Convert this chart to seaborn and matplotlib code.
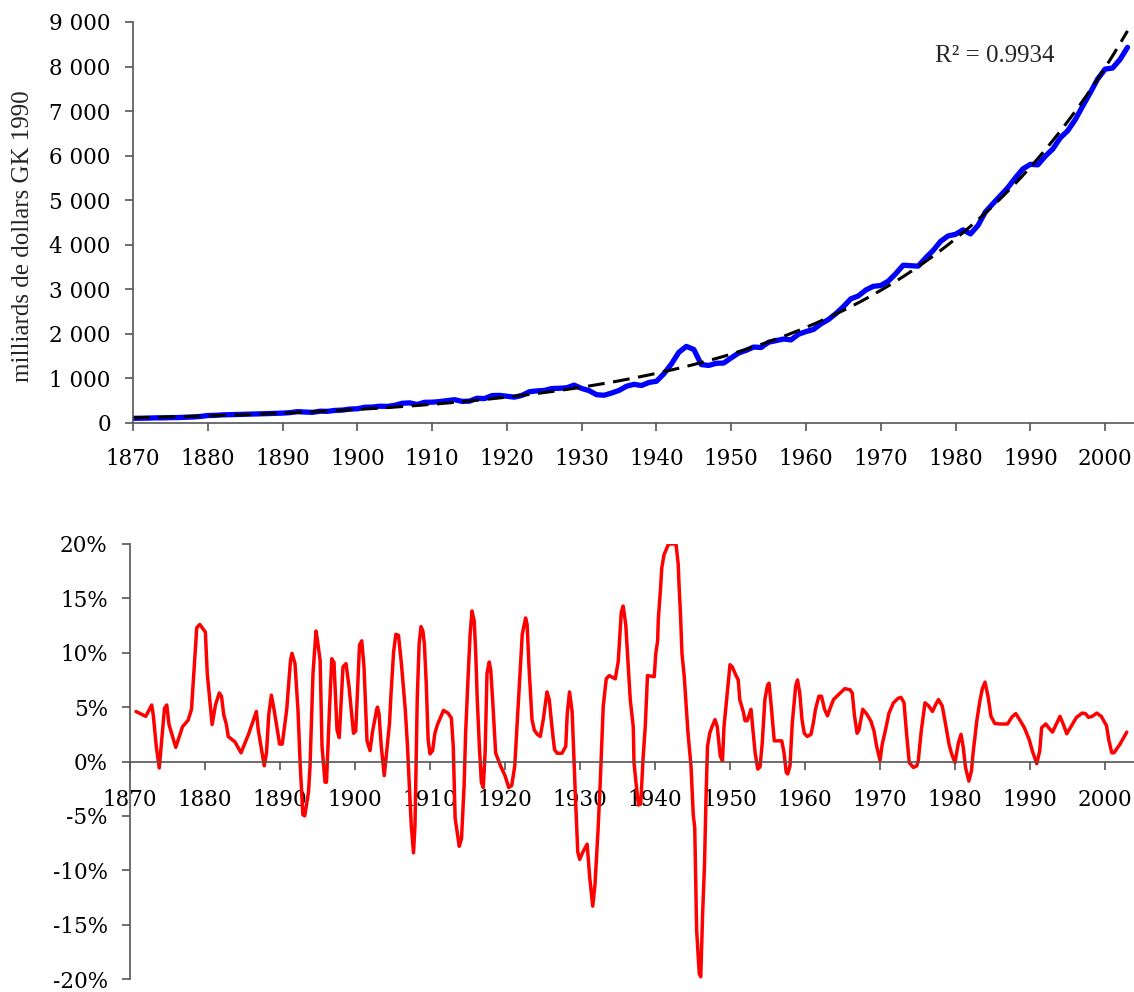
import matplotlib
matplotlib.use("Agg")
import matplotlib.pyplot as plt
import matplotlib.ticker as mticker
import pandas as pd
import seaborn as sns
import numpy as np

# PIB annuel, milliards de dollars GK 1990
years = list(range(1870, 2004))
gdp = [98, 100, 103, 109, 108, 114, 116, 122, 128, 140,
       161, 165, 176, 180, 185, 187, 194, 199, 205, 211,
       215, 226, 249, 239, 232, 258, 255, 276, 283, 306,
       313, 347, 351, 370, 366, 390, 436, 445, 410, 458,
       461, 474, 496, 517, 479, 484, 549, 541, 609, 614,
       594, 574, 612, 695, 714, 724, 767, 773, 784, 844,
       769, 720, 629, 616, 666, 725, 819, 862, 835, 904,
       930, 1099, 1318, 1581, 1714, 1645, 1305, 1286, 1334, 1340,
       1456, 1567, 1625, 1699, 1689, 1808, 1844, 1879, 1860, 1987,
       2047, 2094, 2220, 2316, 2450, 2607, 2782, 2847, 2980, 3063,
       3082, 3179, 3346, 3537, 3527, 3516, 3702, 3867, 4073, 4195,
       4231, 4331, 4240, 4430, 4735, 4920, 5100, 5280, 5500, 5700,
       5803, 5791, 5985, 6146, 6396, 6558, 6804, 7110, 7406, 7718,
       7942, 7966, 8159, 8431]

# taux de croissance (%)
growth_year = [
    1870.8, 1872.1, 1872.9, 1873.1, 1873.5, 1873.9, 1874.6, 1874.9, 1875.2, 1876.1,
    1877.0, 1877.75, 1878.2, 1878.9, 1879.3, 1880.05, 1880.3, 1880.95, 1881.4, 1881.9,
    1882.2, 1882.5, 1882.85, 1883.1, 1884.0, 1884.8, 1885.8, 1886.85, 1887.1, 1887.9,
    1888.2, 1888.5, 1888.85, 1889.2, 1889.95, 1890.3, 1890.9, 1891.4, 1891.6, 1892.0,
    1892.4, 1892.7, 1893.05, 1893.3, 1893.8, 1894.0, 1894.4, 1894.8, 1895.0, 1895.35,
    1895.6, 1896.0, 1896.2, 1896.6, 1896.9, 1897.2, 1897.6, 1897.9, 1898.4, 1898.8,
    1899.2, 1899.8, 1900.1, 1900.6, 1900.9, 1901.2, 1901.6, 1902.0, 1902.35, 1902.9,
    1903.0, 1903.2, 1903.5, 1903.9, 1904.2, 1904.6, 1904.8, 1905.15, 1905.45, 1905.8,
    1906.2, 1906.7, 1907.0, 1907.2, 1907.5, 1907.8, 1908.0, 1908.3, 1908.55, 1908.8,
    1909.05, 1909.25, 1909.5, 1909.75, 1910.0, 1910.35, 1910.65, 1911.0, 1911.8, 1912.4,
    1912.85, 1913.1, 1913.35, 1913.9, 1914.2, 1914.55, 1914.75, 1915.1, 1915.35, 1915.6,
    1915.9, 1916.1, 1916.3, 1916.6, 1916.85, 1917.1, 1917.35, 1917.6, 1917.9, 1918.1,
    1918.4, 1918.75, 1919.4, 1920.0, 1920.5, 1920.9, 1921.3, 1921.55, 1921.9, 1922.1,
    1922.3, 1922.75, 1922.95, 1923.2, 1923.6, 1923.9, 1924.3, 1924.7, 1925.1, 1925.6,
    1925.9, 1926.3, 1926.6, 1926.95, 1927.6, 1928.1, 1928.3, 1928.6, 1928.95, 1929.2,
    1929.4, 1929.7, 1929.95, 1930.4, 1930.95, 1931.3, 1931.7, 1932.0, 1932.4, 1932.7,
    1933.1, 1933.5, 1933.9, 1934.7, 1935.1, 1935.5, 1935.75, 1936.1, 1936.7, 1937.1,
    1937.2, 1937.5, 1937.8, 1938.1, 1938.4, 1938.7, 1938.9, 1939.0, 1939.9, 1940.1,
    1940.35, 1940.45, 1940.75, 1940.9, 1941.2, 1941.8, 1942.8, 1943.1, 1943.2, 1943.4,
    1943.6, 1943.9, 1944.4, 1944.8, 1945.1, 1945.3, 1945.55, 1945.9, 1946.1, 1946.35,
    1946.6, 1946.8, 1947.0, 1947.3, 1947.6, 1948.0, 1948.3, 1948.7, 1949.0, 1949.2,
    1949.55, 1949.8, 1950.0, 1950.3, 1950.8, 1951.1, 1951.3, 1951.8, 1952.0, 1952.3,
    1952.8, 1953.1, 1953.35, 1953.7, 1954.0, 1954.3, 1954.65, 1955.0, 1955.2, 1955.5,
    1955.9, 1956.3, 1956.9, 1957.2, 1957.5, 1957.7, 1958.0, 1958.3, 1958.75, 1959.0,
    1959.3, 1959.6, 1959.9, 1960.3, 1960.8, 1961.1, 1961.4, 1961.85, 1962.2, 1962.6,
    1963.0, 1963.3, 1963.8, 1964.4, 1965.3, 1966.0, 1966.3, 1966.6, 1966.95, 1967.2,
    1967.7, 1968.25, 1968.8, 1969.2, 1969.55, 1970.0, 1970.3, 1970.7, 1971.2, 1971.8,
    1972.4, 1972.8, 1973.2, 1973.55, 1973.9, 1974.45, 1974.9, 1975.1, 1975.5, 1976.0,
    1976.5, 1977.0, 1977.4, 1977.8, 1978.3, 1978.75, 1979.2, 1979.55, 1980.0, 1980.45,
    1980.8, 1981.1, 1981.4, 1981.85, 1982.2, 1982.4, 1982.9, 1983.3, 1983.65, 1984.0,
    1984.4, 1984.8, 1985.3, 1986.0, 1987.0, 1987.6, 1988.1, 1988.7, 1989.25, 1989.9,
    1990.3, 1990.9, 1991.3, 1991.55, 1992.1, 1992.5, 1993.0, 1993.55, 1994.0, 1994.45,
    1994.9, 1995.55, 1996.2, 1996.95, 1997.4, 1997.8, 1998.3, 1998.9, 1999.5, 2000.2,
    2000.5, 2000.9, 2001.2, 2002.0, 2002.9]
growth_pct = [
    4.6, 4.15, 5.2, 4.3, 1.4, -0.6, 4.9, 5.2, 3.4, 1.3,
    3.2, 3.8, 4.8, 12.3, 12.6, 11.9, 8.1, 3.4, 5.2, 6.3,
    6.0, 4.3, 3.4, 2.3, 1.8, 0.8, 2.5, 4.6, 2.9, -0.4,
    0.8, 4.3, 6.1, 4.8, 1.6, 1.6, 4.8, 9.3, 9.95, 9.0,
    4.7, -0.4, -4.9, -5.0, -2.8, -0.5, 8.1, 12.0, 11.1, 9.3,
    1.45, -1.9, -1.9, 4.8, 9.45, 9.1, 2.9, 2.2, 8.7, 9.0,
    6.9, 2.6, 2.8, 10.7, 11.1, 8.7, 1.9, 1.0, 2.8, 4.8,
    5.0, 4.4, 1.4, -1.3, 0.8, 3.5, 6.2, 10.1, 11.7, 11.6,
    8.9, 4.8, 1.4, -1.6, -5.85, -8.4, -5.85, 5.8, 10.8, 12.4,
    12.0, 10.8, 7.2, 2.0, 0.7, 1.0, 2.6, 3.4, 4.7, 4.45,
    4.0, 1.4, -5.2, -7.8, -7.1, -2.2, 2.6, 8.1, 11.7, 13.85,
    12.9, 9.9, 5.7, 1.1, -1.9, -2.4, 0.8, 8.1, 9.15, 8.4,
    5.1, 0.8, -0.4, -1.3, -2.4, -2.2, -0.4, 2.6, 6.8, 9.2,
    11.7, 13.2, 12.6, 8.7, 3.85, 2.9, 2.5, 2.3, 3.85, 6.4,
    5.7, 2.9, 1.1, 0.76, 0.76, 1.4, 4.4, 6.4, 4.6, 0.2,
    -3.4, -8.3, -9.0, -8.3, -7.6, -10.7, -13.3, -11.3, -6.4, -1.9,
    5.1, 7.6, 7.9, 7.6, 9.2, 13.7, 14.3, 12.6, 5.7, 3.2,
    -0.1, -2.2, -4.0, -3.9, 0.2, 3.2, 6.3, 7.9, 7.8, 9.9,
    11.1, 13.2, 16.0, 17.8, 19.0, 20.0, 20.0, 18.1, 16.3, 13.5,
    9.9, 7.8, 2.6, -0.4, -4.9, -6.1, -15.5, -19.5, -19.8, -14.0,
    -9.5, -3.4, 1.4, 2.6, 3.2, 3.85, 3.2, 0.5, 0.06, 3.2,
    5.7, 7.5, 8.9, 8.7, 7.9, 7.5, 5.7, 4.5, 3.75, 3.75,
    4.8, 2.6, 0.8, -0.7, -0.5, 1.7, 5.7, 7.0, 7.2, 5.1,
    1.9, 1.9, 1.9, 0.8, -1.0, -1.15, -0.4, 3.5, 6.9, 7.5,
    6.3, 3.85, 2.6, 2.3, 2.5, 3.5, 4.8, 6.0, 6.0, 4.8,
    4.2, 4.8, 5.7, 6.1, 6.7, 6.6, 6.3, 4.2, 2.6, 2.9,
    4.8, 4.35, 3.7, 2.8, 1.4, 0.1, 1.6, 2.8, 4.45, 5.4,
    5.8, 5.9, 5.4, 2.5, -0.1, -0.55, -0.4, 0.06, 2.8, 5.4,
    5.1, 4.6, 5.2, 5.7, 5.1, 3.4, 1.6, 0.7, -0.1, 1.7,
    2.5, 1.3, -0.55, -1.8, -0.85, 0.7, 3.7, 5.5, 6.7, 7.3,
    6.0, 4.15, 3.5, 3.45, 3.45, 4.1, 4.4, 3.75, 3.1, 2.0,
    1.0, -0.2, 1.0, 3.1, 3.45, 3.1, 2.7, 3.5, 4.15, 3.4,
    2.55, 3.3, 4.06, 4.45, 4.4, 4.06, 4.15, 4.45, 4.15, 3.3,
    2.0, 0.8, 0.8, 1.6, 2.7]

r2_text = "R² = 0.9934"

df_gdp = pd.DataFrame({"year": years, "gdp": gdp})
# exponential trend (log-linear fit, like the spreadsheet trendline)
b, a = np.polyfit(df_gdp["year"], np.log(df_gdp["gdp"]), 1)
df_gdp["trend"] = np.exp(a + b * df_gdp["year"])
df_growth = pd.DataFrame({"year": growth_year, "pct": growth_pct})

sns.set_style("white")
plt.rcParams["font.family"] = ["DejaVu Serif"]
axis_col = "#555555"

fig = plt.figure(figsize=(11.34, 9.92), dpi=100)
W, H = 1134, 992
ax1 = fig.add_axes([133 / W, 1 - 422.7 / H, (1135 - 133) / W, (422.7 - 22) / H])
ax2 = fig.add_axes([130 / W, 1 - 979 / H, (1135 - 130) / W, (979 - 544) / H])

# top panel
sns.lineplot(data=df_gdp, x="year", y="gdp", ax=ax1, color="#0000FF", linewidth=3.8)
sns.lineplot(data=df_gdp, x="year", y="trend", ax=ax1, color="black", linewidth=2.2)
ax1.lines[-1].set_dashes((5.5, 2.8))
ax1.set_xlim(1870, 2004)
ax1.set_ylim(0, 9000)
ax1.set_xticks(range(1870, 2001, 10))
ax1.set_yticks(range(0, 9001, 1000))
ax1.yaxis.set_major_formatter(mticker.FuncFormatter(lambda v, p: f"{int(v):,}".replace(",", " ")))
ax1.set_xlabel("")
ax1.set_ylabel("milliards de dollars GK 1990", family=["Liberation Serif"], fontsize=18)
ax1.yaxis.set_label_coords(-0.099, 0.466)
ax1.text(935 / W, 1 - 62 / H, r2_text, transform=fig.transFigure, family=["Liberation Serif"],
         fontsize=18, ha="left", va="baseline")

# bottom panel
sns.lineplot(data=df_growth, x="year", y="pct", ax=ax2, color="#FF0000", linewidth=2.5, sort=False)
ax2.set_xlim(1870, 2004)
ax2.set_ylim(-20, 20)
ax2.set_xticks(range(1870, 2001, 10))
ax2.set_yticks(range(-20, 21, 5))
ax2.yaxis.set_major_formatter(mticker.FuncFormatter(lambda v, p: f"{int(v)}%"))
ax2.set_xlabel("")
ax2.set_ylabel("")
ax2.spines["bottom"].set_position(("data", 0))

for ax in (ax1, ax2):
    ax.set_facecolor("white")
    for s in ("top", "right"):
        ax.spines[s].set_visible(False)
    for s in ("left", "bottom"):
        ax.spines[s].set_color(axis_col)
        ax.spines[s].set_linewidth(1.2)
    ax.tick_params(axis="both", direction="out", length=6, width=1.2, color=axis_col,
                   labelsize=15.5, labelcolor="black", left=True, bottom=True)
    ax.tick_params(axis="y", pad=10)
    ax.grid(False)

ax1.tick_params(axis="x", pad=12)
ax2.tick_params(axis="x", pad=14)

fig.savefig("out.png", dpi=100, facecolor="white")
